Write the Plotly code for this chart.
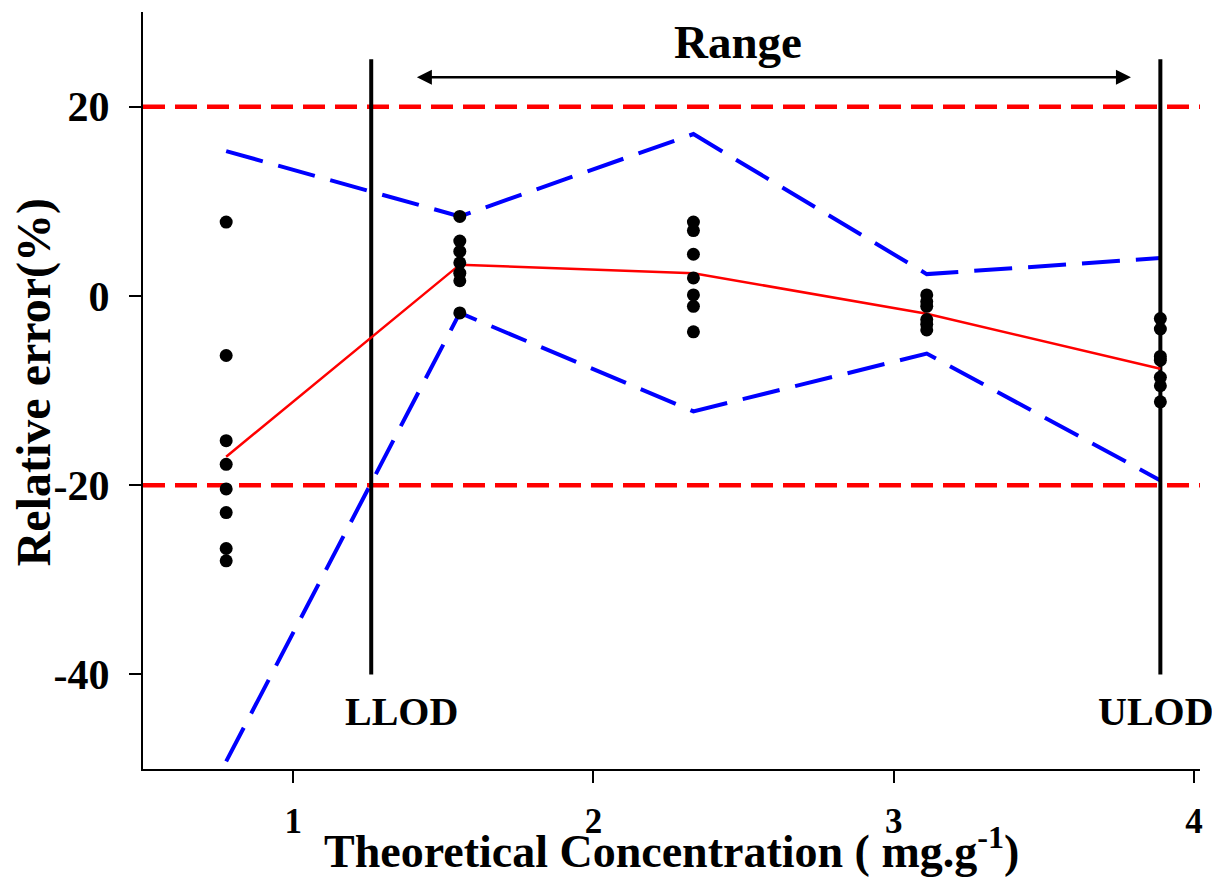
import plotly.graph_objects as go

conc = [0.777, 1.555, 2.333, 3.110, 3.888]
rel_err = [
    [7.8, -6.3, -15.3, -17.8, -20.4, -22.9, -26.7, -28.0],
    [8.4, 5.8, 4.7, 3.5, 2.4, 1.6, -1.8],
    [7.8, 6.9, 4.4, 1.9, 0.1, -1.1, -3.8],
    [0.1, -0.6, -1.1, -2.5, -3.0, -3.6],
    [-2.4, -3.5, -6.4, -6.8, -8.6, -9.5, -11.2],
]
mean_err = [-17.0, 3.3, 2.4, -1.9, -7.7]
upper_tol = [15.3, 8.4, 17.1, 2.3, 4.0]
lower_tol = [-49.2, -1.8, -12.2, -6.1, -19.5]
acc_limits = [20, -20]
llod, ulod = 1.26, 3.888
vline_span = [-40, 25]
x_ticks = [1, 2, 3, 4]
y_ticks = [20, 0, -20, -40]
y_ticktext = ["20", "0", "-20", "-40"]
x_range = [0.5, 4.02]
y_range = [-50, 30]

FONT = "Liberation Serif"

fig = go.Figure()

for lim in acc_limits:
    fig.add_trace(go.Scatter(x=x_range, y=[lim, lim], mode="lines",
                             line=dict(color="#ff0000", width=4.5, dash="22px,10px"),
                             showlegend=False, hoverinfo="skip"))

for tol in (upper_tol, lower_tol):
    fig.add_trace(go.Scatter(x=conc, y=tol, mode="lines",
                             line=dict(color="#0000ff", width=4, dash="38px,16px"),
                             showlegend=False))

for xv in (llod, ulod):
    fig.add_trace(go.Scatter(x=[xv, xv], y=vline_span, mode="lines",
                             line=dict(color="black", width=4),
                             showlegend=False, hoverinfo="skip"))

fig.add_trace(go.Scatter(x=conc, y=mean_err, mode="lines",
                         line=dict(color="#ff0000", width=2.5), showlegend=False))

px, py = [], []
for c, vals in zip(conc, rel_err):
    px += [c] * len(vals)
    py += vals
fig.add_trace(go.Scatter(x=px, y=py, mode="markers",
                         marker=dict(color="black", size=13), showlegend=False))

fig.update_layout(
    width=1212, height=873,
    margin=dict(l=135, r=20, t=4, b=112),
    plot_bgcolor="white", paper_bgcolor="white",
    font=dict(family=FONT, color="black"),
    xaxis=dict(range=x_range, tickvals=x_ticks, ticks="outside", ticklen=12,
               tickwidth=2, tickcolor="black", showline=True, linecolor="black",
               linewidth=2, showgrid=False, zeroline=False, automargin=False,
               tickfont=dict(family=FONT, size=35, color="black", weight="bold"),
               ticklabelstandoff=8),
    yaxis=dict(range=y_range, tickvals=y_ticks, ticktext=y_ticktext, ticks="outside",
               ticklen=12, tickwidth=2, tickcolor="black", showline=True,
               linecolor="black", linewidth=2, showgrid=False, zeroline=False,
               automargin=False,
               tickfont=dict(family=FONT, size=42, color="black", weight="bold"),
               ticklabelstandoff=11),
)

ann_font = dict(family=FONT, color="black", weight="bold")
fig.add_annotation(x=2.48, y=26.8, text="Range", showarrow=False,
                   xanchor="center", yanchor="middle",
                   font=dict(size=47, **ann_font))
fig.add_annotation(x=3.79, y=23.1, ax=1.407, ay=23.1, xref="x", yref="y",
                   axref="x", ayref="y", text="", showarrow=True,
                   arrowhead=2, startarrowhead=2, arrowside="end+start",
                   arrowsize=1.2, arrowwidth=2.5, arrowcolor="black")
fig.add_annotation(x=1.36, y=-43.9, text="LLOD", showarrow=False,
                   xanchor="center", yanchor="middle",
                   font=dict(size=40, **ann_font))
fig.add_annotation(x=3.873, y=-43.9, text="ULOD", showarrow=False,
                   xanchor="center", yanchor="middle",
                   font=dict(size=40, **ann_font))
fig.add_annotation(x=0.5, y=-0.104, xref="paper", yref="paper",
                   xanchor="center", yanchor="middle",
                   text="Theoretical Concentration ( mg.g<sup>-1</sup>)",
                   showarrow=False, font=dict(size=46, **ann_font))
fig.add_annotation(x=-0.103, y=0.511, xref="paper", yref="paper",
                   xanchor="center", yanchor="middle",
                   text="Relative error(%)", textangle=-90, showarrow=False,
                   font=dict(size=48, **ann_font))

fig.write_html("out.html")
